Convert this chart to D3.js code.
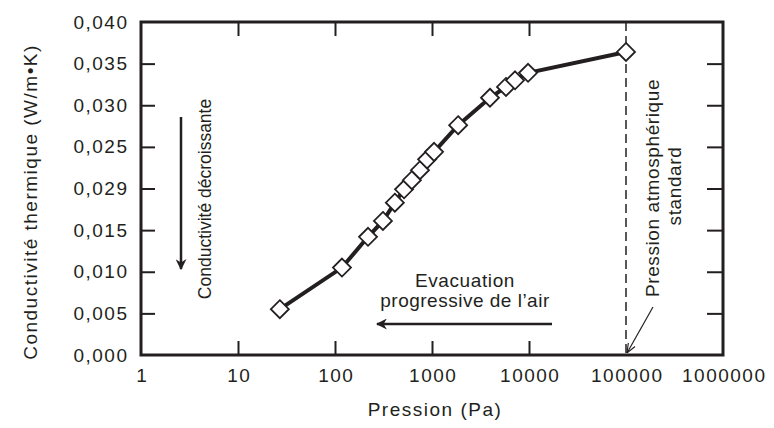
<!DOCTYPE html>
<html>
<head>
<meta charset="utf-8">
<script src="https://cdn.jsdelivr.net/npm/d3@7"></script>
<style>
  body { margin: 0; background: #fff; }
  svg text { font-family: "Liberation Sans", Arial, sans-serif; fill: #231f20; }
</style>
</head>
<body>
<svg id="chart" width="774" height="428"></svg>
<script>
// pressure (Pa) and thermal conductivity (W/m.K)
var pressure = [27, 118, 219, 312, 414, 515, 620, 752, 890, 1050, 1860, 3960, 5790, 7180, 9780, 100000];
var conductivity = [0.0055, 0.0105, 0.0142, 0.0161, 0.0183, 0.0199, 0.0210, 0.0222, 0.0235, 0.0244, 0.0276, 0.0309, 0.0322, 0.0330, 0.0339, 0.0364];

var xTicks = [1, 10, 100, 1000, 10000, 100000, 1000000];
var xTickLabels = ['1', '10', '100', '1000', '10000', '100000', '1000000'];
var yTicks = [0, 0.005, 0.010, 0.015, 0.020, 0.025, 0.030, 0.035, 0.040];
var yTickLabels = ['0,000', '0,005', '0,010', '0,015', '0,029', '0,025', '0,030', '0,035', '0,040'];
var atmPressure = 100000;

var ink = '#231f20';
var margin = {top: 22, right: 51, bottom: 73, left: 141};
var w = 774 - margin.left - margin.right;
var h = 428 - margin.top - margin.bottom;

var svg = d3.select('#chart');
var defs = svg.append('defs');
defs.append('marker')
    .attr('id', 'head')
    .attr('viewBox', '0 0 10 10')
    .attr('refX', 9).attr('refY', 5)
    .attr('markerWidth', 4.4).attr('markerHeight', 4.4)
    .attr('markerUnits', 'strokeWidth')
    .attr('orient', 'auto')
    .append('path')
    .attr('d', 'M0,0 L10,5 L0,10 L3,5 Z')
    .style('fill', ink);
defs.append('marker')
    .attr('id', 'thinhead')
    .attr('viewBox', '0 0 10 10')
    .attr('refX', 10).attr('refY', 5)
    .attr('markerWidth', 8).attr('markerHeight', 8)
    .attr('markerUnits', 'strokeWidth')
    .attr('orient', 'auto')
    .append('path')
    .attr('d', 'M0,1 L10,5 L0,9')
    .style('fill', 'none').style('stroke', ink).style('stroke-width', 1.2);

var g = svg.append('g').attr('transform', `translate(${margin.left},${margin.top})`);

var xScale = d3.scaleLog().domain([1, 1000000]).range([0, w]);
var yScale = d3.scaleLinear().domain([0, 0.04]).range([h, 0]);

// bottom axis (ticks point inward)
var xAxis = g.append('g')
    .attr('transform', `translate(0,${h})`)
    .call(d3.axisBottom(xScale)
        .tickValues(xTicks)
        .tickFormat((d, i) => xTickLabels[i])
        .tickSizeInner(-14).tickSizeOuter(0).tickPadding(14));
xAxis.select('.domain').remove();
xAxis.selectAll('.tick line')
    .style('stroke', ink).style('stroke-width', 2)
    .style('display', d => (d === 1 || d === 1000000 || d === atmPressure) ? 'none' : null);
xAxis.selectAll('.tick text')
    .style('font-size', '19px').style('letter-spacing', '1.5px').style('fill', ink)
    .attr('dx', '0.75px');

// top ticks
var xTop = g.append('g')
    .call(d3.axisTop(xScale)
        .tickValues(xTicks.filter(d => d > 1 && d < atmPressure))
        .tickFormat('')
        .tickSizeInner(-14).tickSizeOuter(0));
xTop.select('.domain').remove();
xTop.selectAll('.tick line').style('stroke', ink).style('stroke-width', 2);

// left axis
var yAxis = g.append('g')
    .call(d3.axisLeft(yScale)
        .tickValues(yTicks)
        .tickFormat((d, i) => yTickLabels[i])
        .tickSizeInner(-14).tickSizeOuter(0).tickPadding(12.5));
yAxis.select('.domain').remove();
yAxis.selectAll('.tick line')
    .style('stroke', ink).style('stroke-width', 2)
    .style('display', d => (d === 0 || d === 0.04) ? 'none' : null);
yAxis.selectAll('.tick text')
    .style('font-size', '19px').style('letter-spacing', '1.5px').style('fill', ink);

// right ticks
var yRight = g.append('g')
    .attr('transform', `translate(${w},0)`)
    .call(d3.axisRight(yScale)
        .tickValues(yTicks.filter(d => d > 0 && d < 0.04))
        .tickFormat('')
        .tickSizeInner(-16).tickSizeOuter(0));
yRight.select('.domain').remove();
yRight.selectAll('.tick line').style('stroke', ink).style('stroke-width', 2);

// frame
g.append('rect')
    .attr('width', w).attr('height', h)
    .style('fill', 'none').style('stroke', ink).style('stroke-width', 3);

// standard atmospheric pressure
g.append('line')
    .attr('x1', xScale(atmPressure)).attr('x2', xScale(atmPressure))
    .attr('y1', 0).attr('y2', h)
    .style('stroke', ink).style('stroke-width', 1.5)
    .style('stroke-dasharray', '9,5');

// data line
var line = d3.line()
    .x((d, i) => xScale(pressure[i]))
    .y(d => yScale(d));
g.append('path')
    .datum(conductivity)
    .attr('d', line)
    .style('fill', 'none').style('stroke', ink).style('stroke-width', 4);

g.selectAll('.pt')
    .data(conductivity)
    .join('path')
    .attr('class', 'pt')
    .attr('transform', (d, i) => `translate(${xScale(pressure[i])},${yScale(d)})`)
    .attr('d', 'M0,-9 L9,0 L0,9 L-9,0 Z')
    .style('fill', '#fff').style('stroke', ink).style('stroke-width', 1.8);

// annotations
g.append('line')
    .attr('x1', 40).attr('y1', 95).attr('x2', 40).attr('y2', 247)
    .style('stroke', ink).style('stroke-width', 2.5)
    .attr('marker-end', 'url(#head)');
g.append('text')
    .attr('transform', 'translate(70,177) rotate(-90)')
    .attr('text-anchor', 'middle')
    .style('font-size', '17.5px')
    .text('Conductivité décroissante');

g.append('line')
    .attr('x1', 411).attr('y1', 302).attr('x2', 236).attr('y2', 302)
    .style('stroke', ink).style('stroke-width', 2.5)
    .attr('marker-end', 'url(#head)');
g.append('text')
    .attr('x', 324).attr('y', 265)
    .attr('text-anchor', 'middle')
    .style('font-size', '19px').style('letter-spacing', '0.6px')
    .text('Evacuation');
g.append('text')
    .attr('x', 324).attr('y', 285)
    .attr('text-anchor', 'middle')
    .style('font-size', '19px').style('letter-spacing', '0.5px')
    .text('progressive de l’air');

g.append('text')
    .attr('transform', 'translate(518,166) rotate(-90)')
    .attr('text-anchor', 'middle')
    .style('font-size', '19px').style('letter-spacing', '0.6px')
    .text('Pression atmosphérique');
g.append('text')
    .attr('transform', 'translate(540,164) rotate(-90)')
    .attr('text-anchor', 'middle')
    .style('font-size', '19px').style('letter-spacing', '0.6px')
    .text('standard');
g.append('line')
    .attr('x1', 512).attr('y1', 285)
    .attr('x2', xScale(atmPressure) + 1).attr('y2', h - 2)
    .style('stroke', ink).style('stroke-width', 1.2)
    .attr('marker-end', 'url(#thinhead)');

// axis titles
svg.append('text')
    .attr('x', margin.left + w / 2 + 3).attr('y', 416)
    .attr('text-anchor', 'middle')
    .style('font-size', '19px').style('letter-spacing', '1.5px')
    .text('Pression (Pa)');
svg.append('text')
    .attr('transform', 'translate(37,202) rotate(-90)')
    .attr('text-anchor', 'middle')
    .style('font-size', '19px').style('letter-spacing', '1.5px')
    .text('Conductivité thermique (W/m•K)');
</script>
</body>
</html>
